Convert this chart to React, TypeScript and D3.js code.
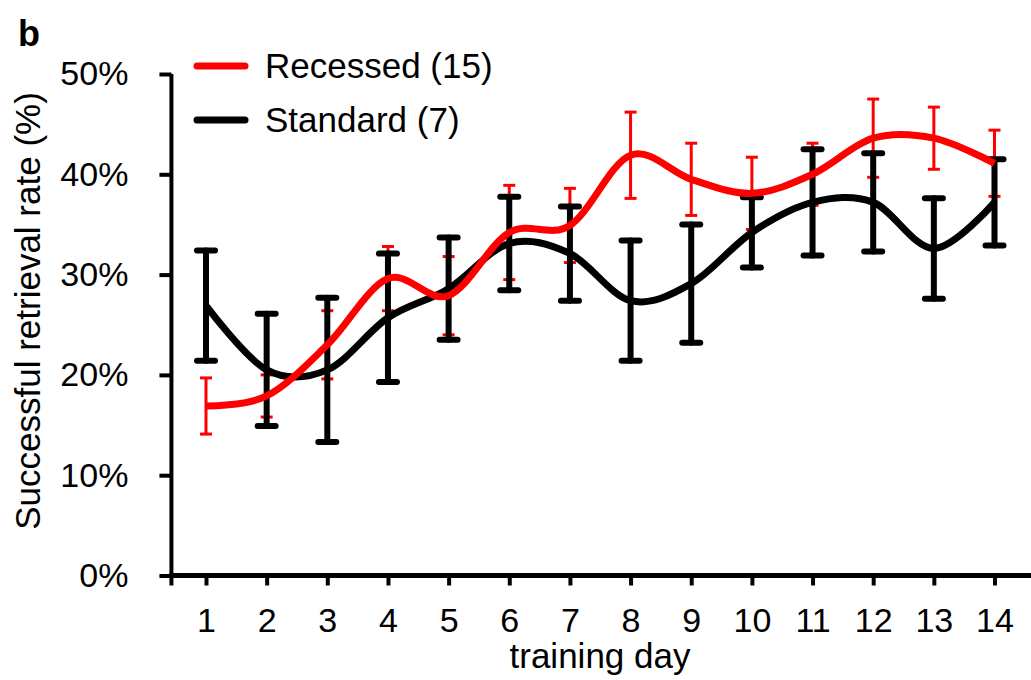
import React, { useRef, useEffect } from 'react'
import * as d3 from 'd3'

// values, in percent
const days = [1, 2, 3, 4, 5, 6, 7, 8, 9, 10, 11, 12, 13, 14]
const recessedMean = [16.9, 17.9, 23.0, 29.6, 27.9, 34.2, 34.9, 41.9, 39.5, 38.1, 40.0, 43.6, 43.6, 41.1]
const recessedErr = [2.8, 2.1, 3.4, 3.2, 3.9, 4.7, 3.7, 4.3, 3.6, 3.6, 3.1, 3.9, 3.1, 3.3]
const standardMean = [26.9, 20.5, 20.5, 25.7, 28.6, 33.1, 32.1, 27.4, 29.1, 34.2, 37.2, 37.2, 32.6, 37.2]
const standardErr = [5.5, 5.6, 7.2, 6.4, 5.1, 4.65, 4.7, 6.0, 5.9, 3.5, 5.3, 4.9, 5.0, 4.3]
const yTicks = [0, 10, 20, 30, 40, 50]
const legendItems = [
  { label: 'Recessed (15)', color: '#ff0000' },
  { label: 'Standard (7)', color: '#000000' },
]

const W = 1031
const H = 680
const FONT = '"Liberation Sans", Arial, sans-serif'

export default function App() {
  const xAxisRef = useRef<SVGGElement>(null)
  const yAxisRef = useRef<SVGGElement>(null)

  const x = d3.scaleLinear().domain([1, 14]).range([206, 994.5])
  const y = d3.scaleLinear().domain([0, 50]).range([575.5, 74])
  const x0 = x(0.43)
  const xEnd = x(14.62)

  const line = d3.line<number>()
    .x((d, i) => x(days[i]))
    .y(d => y(d))
    .curve(d3.curveCardinal.tension(0))

  useEffect(() => {
    const gx = d3.select(xAxisRef.current)
    gx.selectAll('*').remove()
    gx.call(
      d3.axisBottom(x)
        .tickValues(days)
        .tickFormat(d3.format('d'))
        .tickSize(10)
        .tickSizeOuter(0)
        .tickPadding(22)
    )
    gx.select('.domain').remove()
    gx.selectAll('.tick line').attr('stroke', '#000').attr('stroke-width', 4)
    gx.selectAll('.tick text')
      .attr('font-size', 34)
      .attr('font-family', FONT)
      .attr('fill', '#000')

    const gy = d3.select(yAxisRef.current)
    gy.selectAll('*').remove()
    gy.call(
      d3.axisLeft(y)
        .tickValues(yTicks)
        .tickFormat(d => `${d}%`)
        .tickSize(12)
        .tickSizeOuter(0)
        .tickPadding(31)
    )
    gy.select('.domain').remove()
    gy.selectAll('.tick line').attr('stroke', '#000').attr('stroke-width', 4)
    gy.selectAll('.tick text')
      .attr('font-size', 34)
      .attr('font-family', FONT)
      .attr('fill', '#000')
  }, [])

  const errBars = (means: number[], errs: number[], color: string, sw: number, capW: number, round: boolean) => (
    <g stroke={color} strokeWidth={sw} strokeLinecap={round ? 'round' : 'butt'} fill="none">
      {means.map((m, i) => {
        const cx = x(days[i])
        const top = y(m + errs[i])
        const bot = y(m - errs[i])
        return (
          <g key={i}>
            <line x1={cx} x2={cx} y1={top} y2={bot} />
            <line x1={cx - capW / 2} x2={cx + capW / 2} y1={top} y2={top} />
            <line x1={cx - capW / 2} x2={cx + capW / 2} y1={bot} y2={bot} />
          </g>
        )
      })}
    </g>
  )

  return (
    <svg width={W} height={H} viewBox={`0 0 ${W} ${H}`}
      style={{ position: 'absolute', left: 0, top: 0, background: '#fff', fontFamily: FONT }}>
      <text x={18} y={46} fontSize={36} fontWeight="bold">b</text>

      {/* axes */}
      <g ref={yAxisRef} transform={`translate(${x0},0)`} />
      <g ref={xAxisRef} transform={`translate(0,${y(0)})`} />
      <line x1={x0} x2={x0} y1={y(50)} y2={y(0) + 10} stroke="#000" strokeWidth={4} />
      <line x1={x0 - 2} x2={xEnd} y1={y(0)} y2={y(0)} stroke="#000" strokeWidth={5} />

      <text transform={`translate(40,311) rotate(-90)`} textAnchor="middle" fontSize={35}>
        Successful retrieval rate (%)
      </text>
      <text x={600} y={668} textAnchor="middle" fontSize={35}>training day</text>

      {/* data */}
      {errBars(recessedMean, recessedErr, '#ff0000', 3, 12, false)}
      {errBars(standardMean, standardErr, '#000000', 6, 18, true)}
      <path d={line(standardMean) ?? ''} fill="none" stroke="#000" strokeWidth={7} />
      <path d={line(recessedMean) ?? ''} fill="none" stroke="#ff0000" strokeWidth={7} />

      {/* legend */}
      {legendItems.map((it, i) => (
        <g key={it.label} transform={`translate(0,${66 + i * 54})`}>
          <line x1={197} x2={245} y1={0} y2={0} stroke={it.color} strokeWidth={7} strokeLinecap="round" />
          <text x={265} y={12} fontSize={35}>{it.label}</text>
        </g>
      ))}
    </svg>
  )
}
